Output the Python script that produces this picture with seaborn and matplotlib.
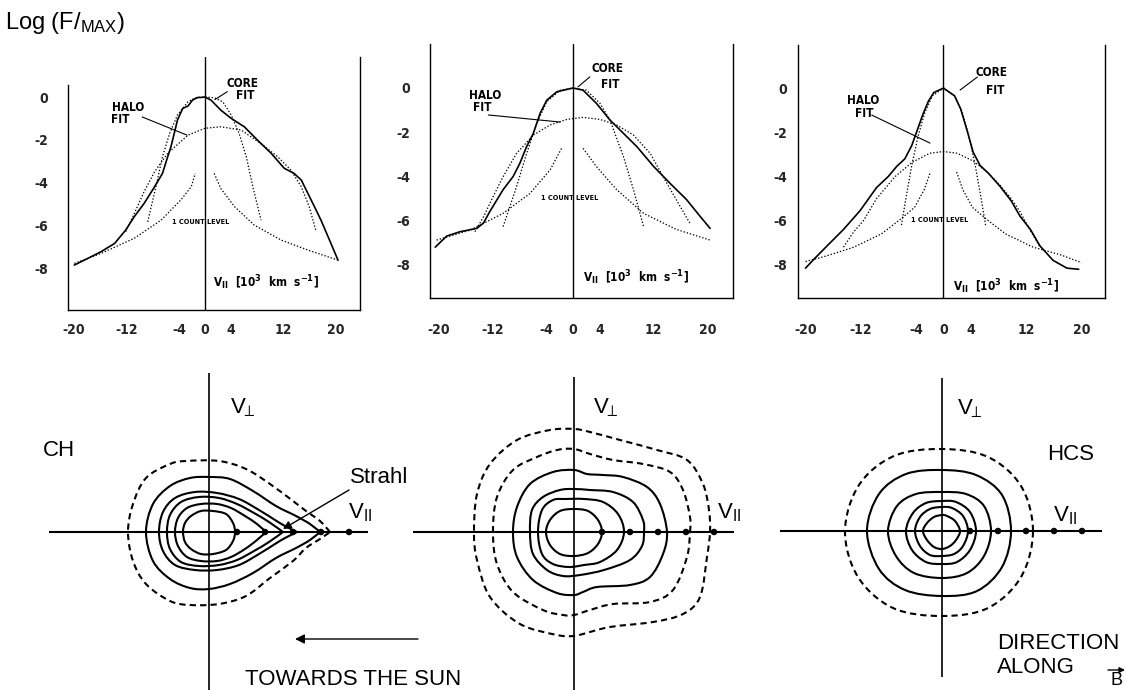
import numpy as np
import matplotlib
matplotlib.use("Agg")
import matplotlib.pyplot as plt
from matplotlib.path import Path
from matplotlib.patches import PathPatch
from matplotlib import font_manager
import seaborn as sns

# ---------------------------------------------------------------- data
v_ticks = [-20, -12, -4, 0, 4, 12, 20]
logf_ticks = [0, -2, -4, -6, -8]

# Coronal-hole (CH) cut along B : log10(F/Fmax) versus v_par [10^3 km/s]
ch_meas_v = [-19.95, -17.9, -15.9, -13.8, -12.1, -10.8, -9.3, -7.7, -6.5, -5.7, -5.2,
             -4.7, -4.2, -3.4, -2.6, -1.9, -1.1, -0.6, 0.0, 0.9, 2.4, 4.0, 6.0, 8.0,
             10.1, 12.1, 13.6, 14.7, 15.7, 16.7, 17.7, 19.0, 20.3]
ch_meas_logf = [-7.85, -7.54, -7.23, -6.84, -6.21, -5.59, -4.97, -4.19, -3.57, -2.79, -2.32,
                -1.70, -1.07, -0.53, -0.42, -0.14, -0.02, -0.02, 0.0, -0.14, -0.61, -1.0,
                -1.39, -2.01, -2.63, -3.33, -3.57, -3.88, -4.50, -5.12, -5.75, -6.68, -7.62]
ch_core_v = [-8.75, -7.5, -6.5, -5.4, -4.2, -2.6, -1.4, 0.0, 1.4, 2.7, 4.0, 5.2, 6.3, 7.3, 8.55]
ch_core_logf = [-5.83, -4.19, -2.79, -1.70, -0.84, -0.22, -0.03, 0.0, -0.03, -0.22, -0.84,
                -1.70, -2.79, -4.19, -5.75]
ch_halo_v = [-12.1, -10.8, -9.3, -7.7, -5.7, -2.6, 0.0, 2.4, 5.5, 8.5, 11.1, 13.1, 14.7, 15.9, 16.9]
ch_halo_logf = [-6.29, -5.44, -4.42, -3.49, -2.63, -1.78, -1.46, -1.39, -1.54, -2.17, -2.79,
                -3.41, -4.19, -5.12, -6.21]
ch_count_lo_v = [-19.95, -15.9, -10.8, -6.7, -3.7, -2.1, -1.5]
ch_count_lo_logf = [-7.77, -7.31, -6.60, -5.75, -4.81, -4.19, -3.57]
ch_count_hi_v = [1.4, 2.4, 4.5, 7.5, 11.6, 15.7, 20.3]
ch_count_hi_logf = [-3.57, -4.27, -5.12, -5.98, -6.68, -7.15, -7.62]

# Intermediate wind
mid_meas_v = [-20.5, -18.8, -16.8, -14.3, -13.3, -12.4, -10.4, -8.9, -7.9, -6.9, -5.9, -4.9,
              -3.9, -2.4, 0.0, 1.5, 3.5, 5.5, 7.5, 9.5, 12.0, 14.4, 16.9, 18.9, 20.4]
mid_meas_logf = [-7.2, -6.7, -6.5, -6.35, -6.1, -5.6, -4.6, -4.0, -3.4, -2.65, -2.05, -1.15,
                 -0.55, -0.17, 0.0, -0.1, -0.7, -1.45, -2.05, -2.65, -3.55, -4.3, -5.05, -5.8,
                 -6.35]
mid_core_v = [-10.4, -8.4, -6.9, -5.4, -3.9, -1.9, 0.0, 2.0, 4.0, 5.5, 7.5, 9.0, 10.5]
mid_core_logf = [-6.27, -4.46, -2.96, -1.6, -0.62, -0.1, 0.0, -0.1, -0.69, -1.45, -3.1, -4.6, -6.27]
mid_halo_v = [-14.6, -13.3, -11.9, -10.4, -8.4, -5.9, -3.4, -0.9, 1.5, 4.0, 6.5, 9.0, 11.5,
              13.4, 15.4, 17.4]
mid_halo_logf = [-6.5, -5.82, -4.92, -4.01, -2.96, -2.13, -1.67, -1.42, -1.33, -1.42, -1.67,
                 -2.13, -2.96, -4.01, -5.07, -6.12]
mid_count_lo_v = [-20.3, -15.3, -10.4, -6.4, -3.4, -1.7]
mid_count_lo_logf = [-6.88, -6.43, -5.67, -4.77, -3.7, -2.73]
mid_count_hi_v = [1.5, 3.5, 6.5, 10.5, 15.4, 20.4]
mid_count_hi_logf = [-2.73, -3.56, -4.6, -5.67, -6.4, -6.88]

# Heliospheric current sheet (HCS)
hcs_meas_v = [-20.0, -18.8, -16.9, -14.5, -12.1, -9.7, -8.0, -6.8, -5.6, -4.6, -3.8, -3.0,
              -2.2, -1.4, 0.0, 1.6, 2.5, 3.4, 4.3, 5.3, 6.5, 8.2, 9.8, 11.1, 12.6, 14.0,
              15.9, 17.9, 19.6]
hcs_meas_logf = [-8.15, -7.75, -7.15, -6.4, -5.55, -4.5, -4.0, -3.55, -3.2, -2.6, -1.9, -1.2,
                 -0.6, -0.2, 0.0, -0.35, -0.95, -1.9, -2.9, -3.5, -3.85, -4.45, -5.1, -5.8,
                 -6.4, -7.15, -7.8, -8.15, -8.2]
hcs_core_v = [-6.1, -5.4, -4.6, -3.7, -2.7, -1.6, 0.0, 1.6, 2.7, 3.7, 4.6, 5.4, 6.1]
hcs_core_logf = [-6.2, -4.9, -3.5, -2.2, -1.1, -0.35, 0.0, -0.35, -1.1, -2.2, -3.5, -4.9, -6.2]
hcs_halo_v = [-14.5, -13.0, -11.6, -9.7, -7.0, -4.5, -2.0, 0.0, 2.0, 4.3, 6.5, 8.2, 9.8,
              11.1, 12.5, 14.0]
hcs_halo_logf = [-7.2, -6.5, -6.0, -5.0, -4.0, -3.35, -2.95, -2.87, -2.95, -3.3, -3.85, -4.4,
                 -5.0, -5.6, -6.4, -7.2]
hcs_count_lo_v = [-20.0, -17.0, -13.0, -9.0, -6.3, -4.2, -2.8, -1.9]
hcs_count_lo_logf = [-7.85, -7.6, -7.2, -6.6, -5.95, -5.4, -4.6, -3.8]
hcs_count_hi_v = [1.9, 2.8, 4.2, 6.3, 9.0, 13.0, 17.0, 20.0]
hcs_count_hi_logf = [-3.8, -4.6, -5.4, -5.95, -6.6, -7.2, -7.55, -7.9]

# Iso-density contours in the (v_par, v_perp) plane; marks along v_par every step of 28
v_par_marks = [28, 56, 84, 112, 140]

ch_contours = [
    [(26, 0), (24, 9), (17, 18), (4, 21), (-8, 21), (-18, 16), (-24, 9), (-26, 0),
     (-24, -10), (-18, -17), (-8, -22), (4, -22), (17, -18), (24, -9)],
    [(57, 0), (48, 8), (36, 16), (22, 24), (8, 28), (-8, 28), (-22, 24), (-31, 14), (-34, 0),
     (-31, -14), (-22, -25), (-8, -29), (8, -29), (22, -25), (36, -17), (48, -8)],
    [(74, 0), (60, 10), (45, 19), (28, 28), (10, 34), (-10, 35), (-28, 30), (-39, 17),
     (-42, 0), (-39, -17), (-28, -30), (-10, -34), (10, -33), (28, -28), (45, -19), (60, -10)],
    [(88, 0), (76, 6), (66, 12), (50, 22), (30, 33), (8, 39), (-14, 40), (-34, 34), (-46, 20),
     (-50, 0), (-46, -19), (-34, -33), (-14, -38), (8, -38), (30, -33), (50, -22), (66, -12),
     (76, -6)],
    [(111, 0), (101, 8), (87, 16), (67, 26), (44, 41), (21, 53), (0, 55), (-19, 54),
     (-39, 46), (-56, 28), (-63, 0), (-56, -29), (-39, -47), (-19, -56), (0, -57), (21, -52),
     (44, -41), (67, -26), (87, -16), (101, -8)],
]
ch_contours_sharp = [False, True, True, True, True]
ch_dashed = [
    [(121, 0), (111, 11), (97, 21), (84, 31), (61, 48), (37, 63), (10, 71), (-23, 71),
     (-39, 68), (-63, 54), (-76, 28), (-81, 0), (-76, -29), (-63, -52), (-39, -69), (-19, -73),
     (10, -72), (37, -64), (61, -46), (84, -29), (97, -16), (111, -7)],
]

mid_contours = [
    [(28, 0), (24, 12), (14, 21), (0, 23), (-14, 21), (-24, 12), (-28, 0), (-24, -13),
     (-14, -22), (0, -24), (14, -21), (24, -12)],
    [(50, 0), (44, 18), (29, 30), (10, 33), (-8, 33), (-21, 32), (-32, 22), (-36, 0),
     (-32, -22), (-21, -32), (-5, -35), (10, -33), (26, -30), (43, -18)],
    [(70, 0), (69, 12), (59, 30), (39, 40), (16, 42), (0, 43), (-14, 42), (-31, 35),
     (-42, 22), (-44, 0), (-41, -22), (-27, -38), (-11, -44), (6, -43), (30, -38), (56, -28),
     (68, -14)],
    [(93, 0), (86, 28), (73, 45), (49, 55), (29, 57), (13, 58), (0, 62), (-21, 60), (-44, 48),
     (-57, 25), (-61, 0), (-57, -25), (-41, -48), (-17, -61), (0, -63), (9, -60), (23, -55),
     (56, -53), (76, -45), (89, -22)],
]
mid_dashed = [
    [(116, 0), (116, 15), (109, 42), (96, 60), (69, 68), (39, 72), (16, 78), (0, 83),
     (-17, 82), (-37, 75), (-61, 62), (-77, 35), (-81, 0), (-77, -32), (-61, -60), (-31, -78),
     (-11, -83), (0, -83), (16, -78), (39, -72), (76, -70), (99, -58), (113, -25)],
    [(136, 0), (135, 22), (129, 48), (113, 72), (83, 82), (46, 92), (16, 100), (0, 103),
     (-24, 102), (-57, 92), (-84, 68), (-97, 38), (-100, 0), (-97, -28), (-84, -65),
     (-54, -92), (-17, -103), (0, -104), (9, -102), (36, -95), (79, -90), (109, -82),
     (126, -65), (133, -25)],
]

hcs_contours = [
    [(18, 0), (13, 10), (5, 15), (0, 16), (-8, 14), (-15, 8), (-19, 0), (-15, -9), (-8, -16),
     (0, -18), (8, -15), (14, -9)],
    [(26, 0), (21, 15), (10, 23), (0, 24), (-12, 22), (-22, 14), (-27, 0), (-22, -15),
     (-12, -24), (0, -25), (12, -23), (21, -15)],
    [(34, 0), (28, 19), (14, 29), (0, 30), (-16, 28), (-29, 18), (-36, 0), (-30, -19),
     (-16, -31), (0, -33), (15, -31), (28, -19)],
    [(49, 0), (42, 25), (24, 37), (0, 39), (-26, 37), (-45, 25), (-54, 0), (-46, -25),
     (-28, -42), (0, -47), (25, -42), (42, -25)],
    [(69, 0), (60, 36), (34, 56), (0, 61), (-36, 57), (-63, 37), (-75, 0), (-63, -38),
     (-37, -59), (0, -65), (35, -60), (60, -36)],
]
hcs_dashed = [
    [(91, 0), (79, 45), (46, 74), (0, 82), (-48, 75), (-83, 46), (-97, 0), (-84, -46),
     (-49, -77), (0, -85), (46, -77), (79, -46)],
]

# ---------------------------------------------------------------- style
sns.set_theme(style="white")
plt.rcParams["font.family"] = ["Liberation Sans", "DejaVu Sans"]
plt.rcParams["axes.unicode_minus"] = False
plt.rcParams["mathtext.fontset"] = "custom"
plt.rcParams["mathtext.rm"] = "Liberation Sans"
plt.rcParams["mathtext.sf"] = "Liberation Sans"
plt.rcParams["mathtext.it"] = "Liberation Sans:italic"
plt.rcParams["mathtext.bf"] = "DejaVu Sans:bold"

_installed = {f.name for f in font_manager.fontManager.ttflist}
if "Liberation Sans Narrow" in _installed:
    TECH = dict(family="Liberation Sans Narrow", fontweight="bold")
else:
    TECH = dict(family="DejaVu Sans", fontweight="bold", fontstretch="condensed")

W, H = 1126, 690
fig = plt.figure(figsize=(W / 100, H / 100), dpi=100)
fig.patch.set_facecolor("white")


def px_rect(l, t, r, b):
    return [l / W, 1 - b / H, (r - l) / W, (b - t) / H]


DOT = (0, (1.1, 1.5))
DASH = (0, (3.0, 2.0))


def profile_panel(rect, xlim, ylim, left_top, ypad, xpad, curves, texts, leaders,
                  count_xy, vlabel_xy):
    ax = fig.add_axes(px_rect(*rect))
    ax.set_facecolor("none")
    for kind, xs, ys in curves:
        sns.lineplot(x=xs, y=ys, ax=ax, sort=False, estimator=None, color="black",
                     lw=1.2 if kind == "solid" else 0.9)
        if kind != "solid":
            ax.lines[-1].set_linestyle(DOT)
    ax.set_xlim(*xlim)
    ax.set_ylim(*ylim)
    ax.axvline(0, color="black", lw=1.0)
    ax.spines["top"].set_visible(False)
    for s in ("left", "right", "bottom"):
        ax.spines[s].set_color("black")
        ax.spines[s].set_linewidth(1.0)
    ax.spines["left"].set_bounds(ylim[0], left_top)
    ax.set_xticks(v_ticks)
    ax.set_xticklabels([str(v) for v in v_ticks])
    ax.set_yticks(logf_ticks)
    ax.set_yticklabels([str(v) for v in logf_ticks])
    ax.tick_params(axis="x", length=0, pad=xpad, labelsize=10)
    ax.tick_params(axis="y", length=0, pad=ypad, labelsize=10)
    for lab in ax.get_xticklabels() + ax.get_yticklabels():
        lab.set_fontweight("bold")
        lab.set_family(TECH["family"])
        if "fontstretch" in TECH:
            lab.set_fontstretch(TECH["fontstretch"])
    ax.set_xlabel("")
    ax.set_ylabel("")
    for (tx, ty, s) in texts:
        ax.text(tx, ty, s, ha="center", va="center", fontsize=8.5, color="black", **TECH)
    for (x0, y0, x1, y1) in leaders:
        ax.annotate("", xy=(x1, y1), xytext=(x0, y0),
                    arrowprops=dict(arrowstyle="-", color="black", lw=0.8,
                                    shrinkA=0, shrinkB=0))
    ax.text(count_xy[0], count_xy[1], "1 COUNT LEVEL", ha="center", va="center",
            fontsize=5.2, color="black", **TECH)
    ax.text(vlabel_xy[0], vlabel_xy[1],
            r"V$_{\mathbf{II}}$  [10$^{\mathbf{3}}$  km  s$^{\mathbf{-1}}$]",
            ha="left", va="center", fontsize=8.5, color="black", **TECH)
    return ax


profile_panel(
    (68, 57, 360, 310), (-20.92, 23.66), (-9.95, 1.87), 0.56, 14, 9,
    [("solid", ch_meas_v, ch_meas_logf), ("dot", ch_core_v, ch_core_logf),
     ("dot", ch_halo_v, ch_halo_logf), ("dot", ch_count_lo_v, ch_count_lo_logf),
     ("dot", ch_count_hi_v, ch_count_hi_logf)],
    [(5.7, 0.62, "CORE"), (6.1, 0.08, "FIT"), (-11.8, -0.51, "HALO"), (-12.9, -1.04, "FIT")],
    [(3.4, 0.25, 1.5, -0.12), (-9.6, -0.93, -2.75, -1.78)],
    (-0.6, -5.84), (1.2, -8.69))

profile_panel(
    (430, 44, 733, 298), (-21.28, 23.81), (-9.50, 1.99), 1.99, 14, 18,
    [("solid", mid_meas_v, mid_meas_logf), ("dot", mid_core_v, mid_core_logf),
     ("dot", mid_halo_v, mid_halo_logf), ("dot", mid_count_lo_v, mid_count_lo_logf),
     ("dot", mid_count_hi_v, mid_count_hi_logf)],
    [(5.1, 0.9, "CORE"), (5.5, 0.14, "FIT"), (-13.1, -0.32, "HALO"), (-13.5, -0.9, "FIT")],
    [(2.5, 0.5, 0.74, 0.05), (-12.6, -1.22, -1.93, -1.54)],
    (-0.45, -4.98), (1.5, -8.6))

profile_panel(
    (798, 45, 1105, 298), (-21.09, 23.41), (-9.50, 1.95), 1.95, 8, 18,
    [("solid", hcs_meas_v, hcs_meas_logf), ("dot", hcs_core_v, hcs_core_logf),
     ("dot", hcs_halo_v, hcs_halo_logf), ("dot", hcs_count_lo_v, hcs_count_lo_logf),
     ("dot", hcs_count_hi_v, hcs_count_hi_logf)],
    [(7.0, 0.72, "CORE"), (7.5, -0.09, "FIT"), (-11.7, -0.54, "HALO"), (-11.5, -1.13, "FIT")],
    [(4.9, 0.5, 2.4, -0.09), (-10.4, -1.22, -1.96, -2.49)],
    (-0.5, -5.97), (1.4, -9.0))

fig.text(5 / W, 1 - 29 / H, r"Log (F/$_{\mathrm{MAX}}$)", ha="left", va="baseline",
         fontsize=17, color="black")


# ---------------------------------------------------------------- contour panels
def closed_curve(pts, sharp=False):
    P = np.asarray(pts, float)
    n = len(P)
    tang = (np.roll(P, -1, axis=0) - np.roll(P, 1, axis=0)) / 6.0
    if sharp:
        tang[0] = 0.0
    verts = [P[0]]
    codes = [Path.MOVETO]
    for i in range(n):
        j = (i + 1) % n
        verts += [P[i] + tang[i], P[j] - tang[j], P[j]]
        codes += [Path.CURVE4] * 3
    return Path(verts, codes)


def contour_panel(rect, center, hline, vline, solid, dashed, sharp_solid, sharp_dashed):
    l, t, r, b = rect
    cx, cy = center
    ax = fig.add_axes(px_rect(l, t, r, b))
    ax.set_xlim(l - cx, r - cx)
    ax.set_ylim(cy - b, cy - t)
    ax.axis("off")
    ax.plot(hline, [0, 0], color="black", lw=1.5, solid_capstyle="butt")
    ax.plot([0, 0], vline, color="black", lw=1.2, solid_capstyle="butt")
    for pts, sh in zip(solid, sharp_solid):
        ax.add_patch(PathPatch(closed_curve(pts, sh), fill=False, ec="black", lw=1.5))
    for pts in dashed:
        ax.add_patch(PathPatch(closed_curve(pts, sharp_dashed), fill=False, ec="black",
                               lw=1.5, ls=DASH))
    sns.scatterplot(x=v_par_marks, y=[0] * len(v_par_marks), ax=ax, color="black", s=22,
                    edgecolor="none", zorder=5)
    return ax


TXT = dict(fontsize=16, color="black", ha="left", va="baseline")
PERP = r"V$_{\!\!\perp}$"
PAR = r"V$_{\mathrm{II}}$"

ax1 = contour_panel((30, 365, 390, 690), (209, 532), [-160, 159], [-160, 159],
                    ch_contours, ch_dashed, ch_contours_sharp, True)
ax1.text(-166, 76, "CH", **TXT)
ax1.text(21, 119, PERP, **TXT)
ax1.text(141, 49, "Strahl", **TXT)
ax1.text(139, 14, PAR, **TXT)
ax1.annotate("", xy=(74, 3), xytext=(140, 42),
             arrowprops=dict(arrowstyle="-|>", color="black", lw=1.0, mutation_scale=12,
                             shrinkA=0, shrinkB=0))
ax1.annotate("", xy=(86, -107), xytext=(209, -107),
             arrowprops=dict(arrowstyle="-|>", color="black", lw=1.0, mutation_scale=14,
                             shrinkA=0, shrinkB=0), annotation_clip=False)
ax1.text(36, -153, "TOWARDS THE SUN", clip_on=False, **TXT)

ax2 = contour_panel((395, 365, 755, 690), (574, 532), [-161, 160], [-160, 155],
                    mid_contours, mid_dashed, [False] * 4, False)
ax2.text(19, 119, PERP, **TXT)
ax2.text(143, 14, PAR, clip_on=False, **TXT)

ax3 = contour_panel((763, 365, 1123, 690), (942, 531), [-162, 160], [-146, 153],
                    hcs_contours, hcs_dashed, [False] * 5, False)
ax3.text(15, 117, PERP, **TXT)
ax3.text(105, 71, "HCS", **TXT)
ax3.text(111, 10, PAR, **TXT)
ax3.text(55, -118, "DIRECTION", clip_on=False, **TXT)
ax3.text(55, -142, "ALONG", clip_on=False, **TXT)
ax3.text(169, -154, "B", clip_on=False, fontsize=13, color="black", ha="left",
         va="baseline")
ax3.annotate("", xy=(183, -139), xytext=(166, -139),
             arrowprops=dict(arrowstyle="-|>", color="black", lw=1.0, mutation_scale=8,
                             shrinkA=0, shrinkB=0), annotation_clip=False)

fig.savefig("out.png", dpi=100, facecolor="white")
